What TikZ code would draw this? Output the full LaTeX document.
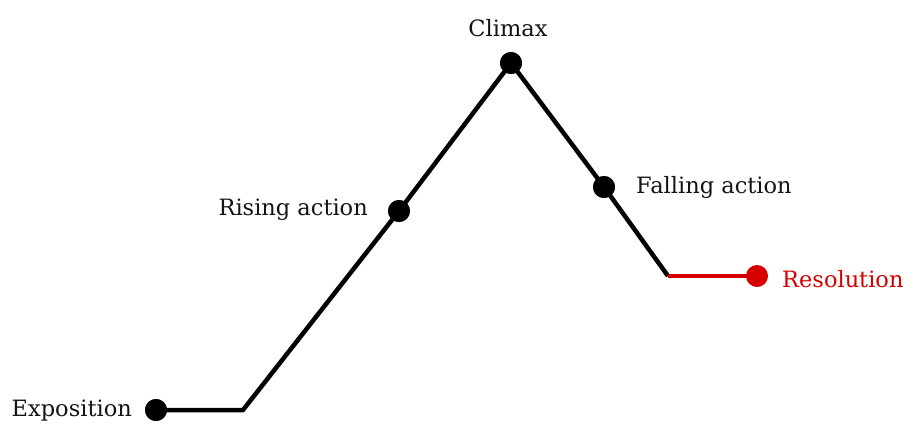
\documentclass[tikz,border=0pt]{standalone}
\usepackage{fontspec}
\setmainfont{DejaVu Serif}
\definecolor{resred}{RGB}{214,0,0}
\definecolor{txtgray}{RGB}{20,20,20}
\begin{document}
\begin{tikzpicture}[x=1pt,y=-1pt,
  lbl/.style={font=\fontsize{22.5}{26}\selectfont,text=txtgray,inner sep=0pt},
  dot/.style={circle,fill=black,inner sep=0pt,minimum size=22pt},
  rdot/.style={circle,fill=resred,inner sep=0pt,minimum size=22pt},
  plot/.style={line width=4.5pt,line join=round},
  rplot/.style={line width=3.2pt,draw=resred}]
\useasboundingbox (0,0) rectangle (906,424);
\node[dot] (expo) at (156,410) {};
\coordinate (c1) at (243,410);
\node[dot] (rise) at (399,211) {};
\node[dot] (clim) at (511,63) {};
\node[dot] (fall) at (604,187) {};
\coordinate (c2) at (668,276);
\node[rdot] (reso) at (757,276) {};
\draw[plot] (expo.center) -- (c1) -- (rise.center) -- (clim.center) -- (fall.center) -- (c2);
\draw[rplot] (c2) -- (reso.center);
\node[dot] at (expo) {};
\node[dot] at (rise) {};
\node[dot] at (clim) {};
\node[dot] at (fall) {};
\node[lbl,anchor=east] (texpo) at (132,411) {Exposition};
\node[lbl] (tclim) at (508,28) {Climax};
\node[lbl,anchor=east] (trise) at (368,210) {Rising action};
\node[lbl,anchor=west] (tfall) at (636,187) {Falling action};
\node[lbl,anchor=west,text=resred] (treso) at (782,279) {Resolution};
\end{tikzpicture}
\end{document}
